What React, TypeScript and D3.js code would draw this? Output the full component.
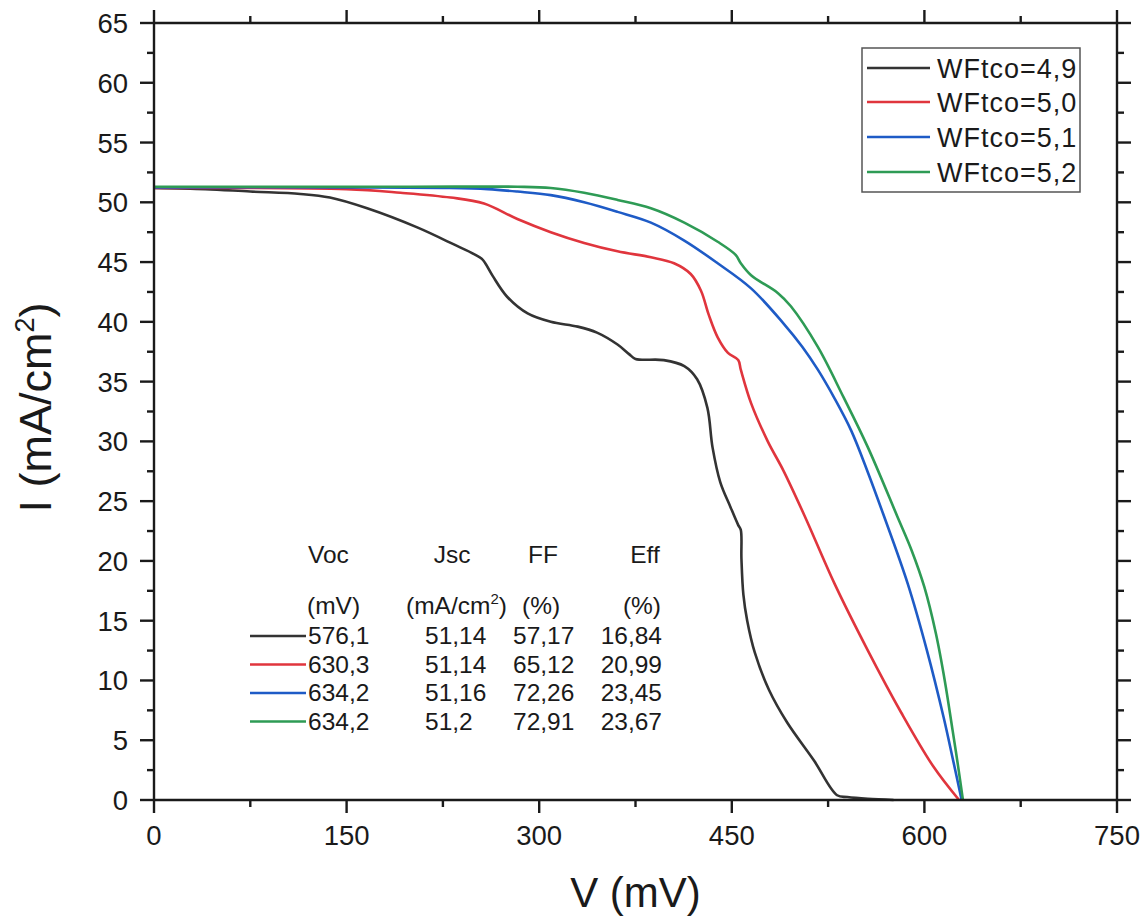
import React from "react";
import * as d3 from "d3";

const seriesNames = ["WFtco=4,9", "WFtco=5,0", "WFtco=5,1", "WFtco=5,2"];
const seriesColors = ["#333333", "#e0353d", "#1e5bc6", "#2e9b55"];

const blackCurve: [number, number][] = [
  [0, 51.2], [40, 51.1], [75, 50.9], [114, 50.7], [137, 50.4], [166, 49.5], [205, 47.9], [231, 46.6],
  [255, 45.3], [258, 44.9], [264, 43.8], [275, 42.1], [291, 40.7], [309, 40.0], [330, 39.6], [345, 39.1],
  [361, 38.1], [370, 37.3], [375, 36.9], [397, 36.8], [413, 36.3], [423, 35.2], [431, 32.8], [435, 29.5],
  [441, 26.6], [449, 24.5], [455, 23.0], [457, 22.6], [457.5, 20.2], [459, 17.2], [462, 15.0], [468, 12.3],
  [479, 9.2], [493, 6.5], [514, 3.3], [532, 0.4], [540, 0.25], [556, 0.1], [576, 0],
];
const redCurve: [number, number][] = [
  [0, 51.2], [150, 51.1], [192, 50.8], [231, 50.4], [257, 49.9], [283, 48.6], [309, 47.5], [335, 46.6],
  [361, 45.9], [387, 45.4], [405, 44.9], [418, 44.0], [426, 42.6], [432, 40.6], [439, 38.7], [447, 37.4],
  [455, 36.8], [457, 36.0], [465, 33.2], [478, 30.0], [490, 27.6], [507, 23.7], [530, 18.1], [556, 12.5],
  [582, 7.3], [607, 2.8], [627, 0],
];
const blueCurve: [number, number][] = [
  [0, 51.25], [150, 51.25], [230, 51.2], [260, 51.1], [283, 50.9], [309, 50.6], [335, 50.0], [361, 49.2],
  [387, 48.3], [413, 46.8], [439, 44.9], [465, 42.8], [490, 39.9], [505, 37.9], [517, 36.0], [530, 33.6],
  [543, 30.9], [556, 27.4], [568, 23.9], [587, 18.1], [602, 12.5], [615, 6.9], [622, 3.5], [629, 0],
];
const greenCurve: [number, number][] = [
  [0, 51.3], [200, 51.3], [283, 51.3], [309, 51.2], [335, 50.8], [361, 50.2], [387, 49.5], [413, 48.3],
  [439, 46.7], [453, 45.6], [457, 44.9], [465, 43.9], [486, 42.4], [496, 41.3], [517, 37.9], [537, 33.7],
  [556, 29.5], [579, 23.7], [590, 20.9], [600, 17.8], [609, 13.9], [616, 9.9], [622, 5.8], [626, 3.0], [630, 0],
];
const curves = [blackCurve, redCurve, blueCurve, greenCurve];

const tableVoc = ["576,1", "630,3", "634,2", "634,2"];
const tableJsc = ["51,14", "51,14", "51,16", "51,2"];
const tableFF = ["57,17", "65,12", "72,26", "72,91"];
const tableEff = ["16,84", "20,99", "23,45", "23,67"];

const xMajor = [0, 150, 300, 450, 600, 750];
const xMinor = [75, 225, 375, 525, 675];
const yMajor = [0, 5, 10, 15, 20, 25, 30, 35, 40, 45, 50, 55, 60, 65];
const yMinor = [2.5, 7.5, 12.5, 17.5, 22.5, 27.5, 32.5, 37.5, 42.5, 47.5, 52.5, 57.5, 62.5];

const FONT = "'Liberation Sans', Arial, Helvetica, sans-serif";

export default function App() {
  const x = d3.scaleLinear().domain([0, 750]).range([154, 1117]);
  const y = d3.scaleLinear().domain([0, 65]).range([800, 23]);
  const line = d3
    .line<[number, number]>()
    .x((d) => x(d[0]))
    .y((d) => y(d[1]))
    .curve(d3.curveCatmullRom.alpha(0.5));

  const [x0, x1] = x.range();
  const [y0, y1] = y.range();
  const axisColor = "#1a1a1a";

  const legendRows = [68, 102, 137, 172];
  const tableRows = [644, 672.5, 701, 729.5];

  return (
    <svg
      width={1147}
      height={922}
      style={{ position: "absolute", left: 0, top: 0, background: "#fff" }}
      fontFamily={FONT}
    >
      <rect x={0} y={0} width={1147} height={922} fill="#fff" />
      {curves.map((c, i) => (
        <path key={i} d={line(c) || ""} fill="none" stroke={seriesColors[i]} strokeWidth={2.6} strokeLinejoin="round" />
      ))}

      <g stroke={axisColor} strokeWidth={2.4} fill="none">
        <line x1={x0} y1={y0} x2={x1} y2={y0} />
        <line x1={x0} y1={y1} x2={x1} y2={y1} />
        <line x1={x0} y1={y0 + 1} x2={x0} y2={y1 - 1} />
        <line x1={x1} y1={y0 + 1} x2={x1} y2={y1 - 1} />
        {xMajor.map((v) => (
          <g key={"xM" + v}>
            <line x1={x(v)} x2={x(v)} y1={y0} y2={y0 + 13} />
            <line x1={x(v)} x2={x(v)} y1={y1} y2={y1 - 13} />
          </g>
        ))}
        {xMinor.map((v) => (
          <g key={"xm" + v}>
            <line x1={x(v)} x2={x(v)} y1={y0} y2={y0 + 7} />
            <line x1={x(v)} x2={x(v)} y1={y1} y2={y1 - 7} />
          </g>
        ))}
        {yMajor.map((v) => (
          <g key={"yM" + v}>
            <line x1={x0} x2={x0 - 14} y1={y(v)} y2={y(v)} />
            <line x1={x1} x2={x1 + 14} y1={y(v)} y2={y(v)} />
          </g>
        ))}
        {yMinor.map((v) => (
          <g key={"ym" + v}>
            <line x1={x0} x2={x0 - 7} y1={y(v)} y2={y(v)} />
            <line x1={x1} x2={x1 + 7} y1={y(v)} y2={y(v)} />
          </g>
        ))}
      </g>

      <g fontSize={27.5} fill="#1a1a1a">
        {xMajor.map((v) => (
          <text key={"xl" + v} x={x(v)} y={y0 + 45} textAnchor="middle">
            {v}
          </text>
        ))}
        {yMajor.map((v) => (
          <text key={"yl" + v} x={x0 - 26} y={y(v) + 10} textAnchor="end">
            {v}
          </text>
        ))}
      </g>

      <text x={(x0 + x1) / 2} y={907} textAnchor="middle" fontSize={42} fill="#1a1a1a">
        V (mV)
      </text>
      <text
        transform={`translate(51, ${(y0 + y1) / 2 - 4}) rotate(-90)`}
        textAnchor="middle"
        fontSize={45}
        fill="#1a1a1a"
      >
        I (mA/cm
        <tspan fontSize={27} dy={-17}>2</tspan>
        <tspan dy={17}>)</tspan>
      </text>

      <rect x={862} y={48} width={218} height={144} fill="#fff" stroke="#555" strokeWidth={1.5} />
      {seriesNames.map((n, i) => (
        <g key={n}>
          <line x1={867} x2={930} y1={legendRows[i]} y2={legendRows[i]} stroke={seriesColors[i]} strokeWidth={2.6} />
          <text x={937} y={legendRows[i] + 9.5} fontSize={27} letterSpacing={1} fill="#1a1a1a">
            {n}
          </text>
        </g>
      ))}

      <g fontSize={24.5} fill="#1a1a1a">
        <text x={308} y={563}>Voc</text>
        <text x={452} y={563} textAnchor="middle">Jsc</text>
        <text x={543} y={563} textAnchor="middle">FF</text>
        <text x={645} y={563} textAnchor="middle">Eff</text>
        <text x={307} y={614}>(mV)</text>
        <text x={406} y={614}>
          (mA/cm<tspan fontSize={15} dy={-10}>2</tspan>
          <tspan dy={10}>)</tspan>
        </text>
        <text x={522} y={614}>(%)</text>
        <text x={661} y={614} textAnchor="end">(%)</text>
        {tableRows.map((ty, i) => (
          <g key={"row" + i}>
            <line x1={250} x2={306} y1={ty - 8} y2={ty - 8} stroke={seriesColors[i]} strokeWidth={2.6} />
            <text x={308} y={ty}>{tableVoc[i]}</text>
            <text x={425} y={ty}>{tableJsc[i]}</text>
            <text x={513} y={ty}>{tableFF[i]}</text>
            <text x={662} y={ty} textAnchor="end">{tableEff[i]}</text>
          </g>
        ))}
      </g>
    </svg>
  );
}
